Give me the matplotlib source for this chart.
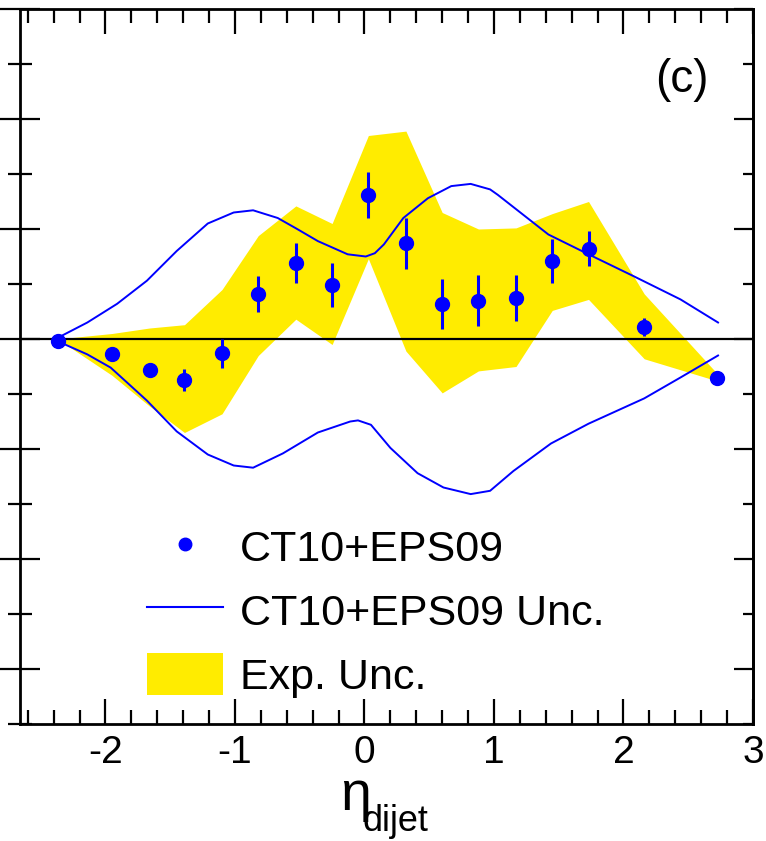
import numpy as np
import matplotlib
matplotlib.use('Agg')
import matplotlib.pyplot as plt
from matplotlib.lines import Line2D
from matplotlib.patches import Patch
from matplotlib.ticker import MultipleLocator

plt.rcParams['font.family'] = ['Liberation Sans', 'DejaVu Sans']
plt.rcParams['mathtext.fontset'] = 'custom'
plt.rcParams['mathtext.rm'] = 'Liberation Sans'

# CT10+EPS09 points
eta = [-2.37, -1.95, -1.66, -1.39, -1.10, -0.82, -0.53, -0.25, 0.03,
       0.32, 0.60, 0.88, 1.17, 1.45, 1.73, 2.16, 2.72]
ratio = [0.998, 0.986, 0.972, 0.963, 0.987, 1.041, 1.069, 1.049, 1.131,
         1.087, 1.032, 1.035, 1.037, 1.071, 1.082, 1.011, 0.965]
err = [0.003, 0.004, 0.005, 0.010, 0.013, 0.016, 0.018, 0.020, 0.021,
       0.023, 0.023, 0.023, 0.021, 0.020, 0.016, 0.008, 0.003]

# experimental uncertainty band (edges at the same eta)
exp_hi = [1.000, 1.005, 1.010, 1.013, 1.045, 1.094, 1.121, 1.105, 1.185,
          1.189, 1.115, 1.100, 1.101, 1.114, 1.125, 1.041, 0.969]
exp_lo = [1.000, 0.967, 0.939, 0.915, 0.932, 0.985, 1.018, 0.995, 1.073,
          0.989, 0.951, 0.971, 0.975, 1.026, 1.036, 0.982, 0.962]

# CT10+EPS09 uncertainty, upper and lower curves
up_x = [-2.37, -2.14, -1.91, -1.68, -1.45, -1.21, -1.01, -0.86, -0.67, -0.52,
        -0.36, -0.13, 0.01, 0.08, 0.15, 0.30, 0.49, 0.67, 0.82, 0.97, 1.03,
        1.42, 1.73, 2.08, 2.44, 2.73]
up_y = [1.001, 1.015, 1.032, 1.053, 1.080, 1.105, 1.115, 1.117, 1.110, 1.100,
        1.089, 1.077, 1.075, 1.078, 1.086, 1.110, 1.128, 1.139, 1.141, 1.136,
        1.131, 1.095, 1.077, 1.057, 1.036, 1.015]
lo_x = [-2.37, -2.14, -1.96, -1.68, -1.45, -1.21, -1.01, -0.86, -0.63, -0.36,
        -0.11, -0.05, 0.05, 0.20, 0.41, 0.61, 0.82, 0.97, 1.15, 1.44, 1.73,
        2.16, 2.44, 2.73]
lo_y = [0.998, 0.986, 0.974, 0.944, 0.916, 0.895, 0.885, 0.883, 0.896, 0.915,
        0.925, 0.926, 0.922, 0.901, 0.878, 0.865, 0.859, 0.862, 0.880, 0.905,
        0.923, 0.946, 0.965, 0.985]

blue = '#0000ff'
yellow = '#ffec00'

fig = plt.figure(figsize=(7.66, 8.41), dpi=100)
ax = fig.add_axes([20 / 766, 1 - 724 / 841, 733 / 766, 715 / 841])

ax.fill_between(eta, exp_lo, exp_hi, color=yellow, lw=0, zorder=1)
ax.axhline(1.0, color='black', lw=1.6, zorder=2)
ax.plot(up_x, up_y, color=blue, lw=1.4, zorder=3)
ax.plot(lo_x, lo_y, color=blue, lw=1.4, zorder=3)
ax.errorbar(eta, ratio, yerr=err, fmt='o', color=blue, ms=10,
            elinewidth=2.2, capsize=0, zorder=4)

ax.set_xlim(-2.66, 3.0)
ax.set_ylim(0.65, 1.3)
ax.xaxis.set_major_locator(MultipleLocator(1))
ax.xaxis.set_minor_locator(MultipleLocator(0.2))
ax.yaxis.set_major_locator(MultipleLocator(0.1))
ax.yaxis.set_minor_locator(MultipleLocator(0.05))

for s in ax.spines.values():
    s.set_linewidth(2)
ax.tick_params(axis='x', which='both', direction='in', top=True,
               labelsize=28, pad=8, width=1.6)
ax.tick_params(axis='x', which='major', length=18)
ax.tick_params(axis='x', which='minor', length=10)
ax.tick_params(axis='y', which='both', left=True, right=False,
               labelleft=False, width=1.6)
ax.tick_params(axis='y', which='major', direction='inout', length=29)
ax.tick_params(axis='y', which='minor', direction='inout', length=17)

# right side ticks point inward only
sec = ax.secondary_yaxis('right')
sec.yaxis.set_major_locator(MultipleLocator(0.1))
sec.yaxis.set_minor_locator(MultipleLocator(0.05))
sec.tick_params(which='both', direction='in', labelright=False, width=1.6)
sec.tick_params(which='major', length=14)
sec.tick_params(which='minor', length=7)
sec.spines['right'].set_linewidth(2)

ax.set_xticks([-2, -1, 0, 1, 2, 3])
ax.set_xticklabels(['-2', '-1', '0', '1', '2', '3'])

ax.text(0.903, 0.9, '(c)', transform=ax.transAxes, fontsize=33,
        ha='center', va='center')

fig.text(340 / 766, 1 - 810 / 841, r'$\mathrm{\eta}$', fontsize=40,
         va='baseline')
fig.text(363 / 766, 1 - 831 / 841, 'dijet', fontsize=26, va='baseline')

handles = [
    Line2D([], [], marker='o', ls='none', color=blue, ms=9),
    Line2D([], [], color=blue, lw=1.5),
    Patch(facecolor=yellow, edgecolor='none'),
]
labels = ['CT10+EPS09', 'CT10+EPS09 Unc.', 'Exp. Unc.']
ax.legend(handles, labels, loc='upper left', bbox_to_anchor=(0.173, 0.277),
          frameon=False, fontsize=31, borderpad=0, borderaxespad=0,
          handlelength=1.77, handleheight=1.1, handletextpad=0.4,
          labelspacing=0.45)

fig.savefig('out.png', dpi=100)
